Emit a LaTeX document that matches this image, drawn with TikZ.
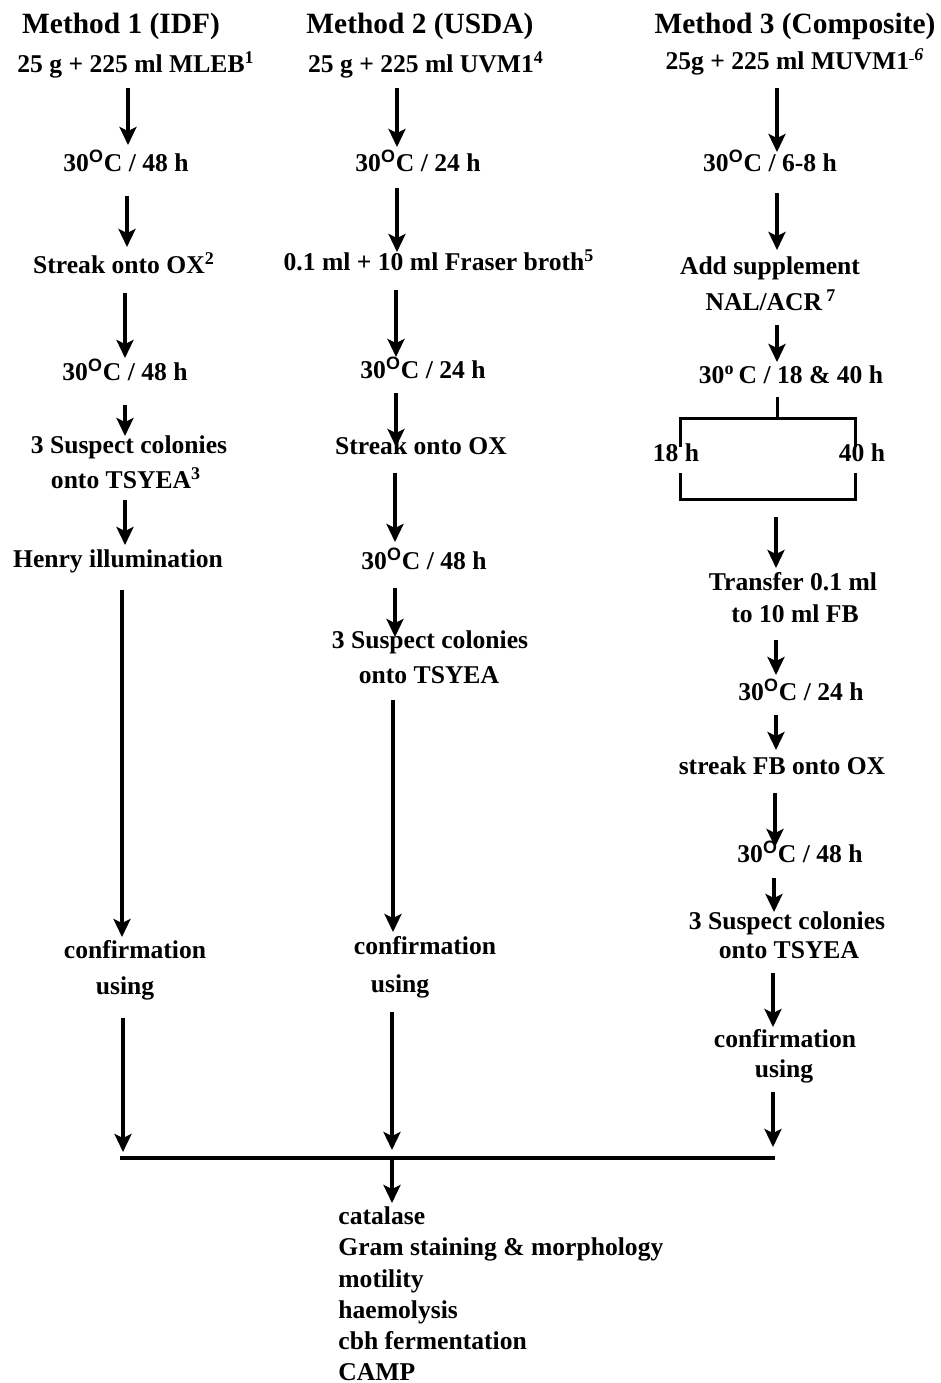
\documentclass[tikz,border=0pt]{standalone}
\usepackage{fontspec}
\setmainfont{Liberation Serif}
\newfontfamily\sansf{Liberation Sans}
\usetikzlibrary{arrows.meta}
\newcommand{\dg}{\textsuperscript{\sansf\bfseries O}}
\newcommand{\varr}[4]{\coordinate (#1s) at (#2,#3);\coordinate (#1e) at (#2,#4);\draw[arr] (#1s) -- (#1e);}
\begin{document}
\begin{tikzpicture}[x=0.5pt,y=-0.5pt,
 txt/.style={inner sep=0pt, anchor=base, font=\fontsize{12.8}{15}\selectfont\bfseries},
 ttl/.style={inner sep=0pt, anchor=base, font=\fontsize{14.7}{17}\selectfont\bfseries},
 lst/.style={inner sep=0pt, anchor=base west, font=\fontsize{12.8}{15}\selectfont\bfseries},
 arr/.style={line width=1.7pt, -{Stealth[length=9pt,width=8.5pt,inset=2pt]}},
 bar/.style={line width=1.5pt},
 hbar/.style={line width=2.2pt},
]
\useasboundingbox (0,0) rectangle (941,1383);
% Column 1
\node[ttl] (m1) at (121,33) {Method 1 (IDF)};
\node[txt] (a1) at (136,72) {25 g + 225 ml MLEB\textsuperscript{1}};
\varr{r11}{128}{88}{145}
\node[txt] (a2) at (126,171) {30\dg C / 48 h};
\varr{r12}{127}{196}{247}
\node[txt] (a3) at (124,273) {Streak onto OX\textsuperscript{2}};
\varr{r13}{125}{293}{358}
\node[txt] (a4) at (125,380) {30\dg C / 48 h};
\varr{r14}{125}{405}{436}
\node[txt] (a5) at (129,453) {3 Suspect colonies};
\node[txt] (a6) at (126,488) {onto TSYEA\textsuperscript{3}};
\varr{r15}{125}{500}{545}
\node[txt] (a7) at (118,567) {Henry illumination};
\varr{r16}{122}{590}{937}
\node[txt] (a8) at (135,958) {confirmation};
\node[txt] (a9) at (125,994) {using};
\varr{r17}{123}{1018}{1152}
% Column 2
\node[ttl] (m2) at (420,33) {Method 2 (USDA)};
\node[txt] (b1) at (426,72) {25 g + 225 ml UVM1\textsuperscript{4}};
\varr{r21}{397}{88}{147}
\node[txt] (b2) at (418,171) {30\dg C / 24 h};
\varr{r22}{397}{188}{252}
\node[txt] (b3) at (439,270) {0.1 ml + 10 ml Fraser broth\textsuperscript{5}};
\varr{r23}{396}{290}{357}
\node[txt] (b4) at (423,378) {30\dg C / 24 h};
\varr{r24}{396}{393}{447}
\node[txt] (b5) at (421,454) {Streak onto OX};
\varr{r25}{395}{473}{542}
\node[txt] (b6) at (424,569) {30\dg C / 48 h};
\varr{r26}{395}{588}{637}
\node[txt] (b7) at (430,648) {3 Suspect colonies};
\node[txt] (b8) at (429,683) {onto TSYEA};
\varr{r27}{393}{700}{932}
\node[txt] (b9) at (425,954) {confirmation};
\node[txt] (b10) at (400,992) {using};
\varr{r28}{392}{1012}{1150}
% Column 3
\node[ttl] (m3) at (795,33) {Method 3 (Composite)};
\node[txt] (c1) at (795,69) {25g + 225 ml MUVM1\textsuperscript{\rule{0.3em}{0.07em}\textit{6}}};
\varr{r31}{777}{88}{152}
\node[txt] (c2) at (770,171) {30\dg C / 6-8 h};
\varr{r32}{777}{193}{250}
\node[txt] (c3) at (770,274) {Add supplement};
\node[txt] (c4) at (771,310) {NAL/ACR\,\textsuperscript{7}};
\varr{r33}{777}{325}{362}
\node[txt] (c5) at (791,383) {30\textsuperscript{o}\,C / 18 \& 40 h};
\coordinate (k0) at (777,397);
\coordinate (k1) at (777,418);
\coordinate (kl) at (680,418);
\coordinate (kr) at (855,418);
\coordinate (kl2) at (680,447);
\coordinate (kr2) at (855,447);
\draw[bar] (k0) -- (k1);
\draw[bar] (kl2) -- (kl) -- (kr) -- (kr2);
\node[txt] (c6) at (676,461) {18 h};
\node[txt] (c7) at (862,461) {40 h};
\coordinate (ll1) at (680,473);
\coordinate (ll2) at (680,499);
\coordinate (lr2) at (855,499);
\coordinate (lr1) at (855,473);
\draw[bar] (ll1) -- (ll2) -- (lr2) -- (lr1);
\varr{r34}{776}{517}{568}
\node[txt] (c8) at (793,590) {Transfer 0.1 ml};
\node[txt] (c9) at (795,622) {to 10 ml FB};
\varr{r35}{776}{640}{675}
\node[txt] (c10) at (801,700) {30\dg C / 24 h};
\varr{r36}{776}{715}{750}
\node[txt] (c11) at (782,774) {streak FB onto OX};
\varr{r37}{775}{793}{847}
\node[txt] (c12) at (800,862) {30\dg C / 48 h};
\varr{r38}{774}{878}{912}
\node[txt] (c13) at (787,929) {3 Suspect colonies};
\node[txt] (c14) at (789,958) {onto TSYEA};
\varr{r39}{773}{973}{1027}
\node[txt] (c15) at (785,1047) {confirmation};
\node[txt] (c16) at (784,1077) {using};
\varr{r310}{773}{1092}{1147}
% Bottom
\coordinate (hl) at (120,1158);
\coordinate (hr) at (775,1158);
\draw[hbar] (hl) -- (hr);
\varr{r4}{392}{1158}{1203}
\node[lst] (d1) at (338,1224) {catalase};
\node[lst] (d2) at (338,1255) {Gram staining \& morphology};
\node[lst] (d3) at (338,1287) {motility};
\node[lst] (d4) at (338,1318) {haemolysis};
\node[lst] (d5) at (338,1349) {cbh fermentation};
\node[lst] (d6) at (338,1380) {CAMP};
\end{tikzpicture}
\end{document}
